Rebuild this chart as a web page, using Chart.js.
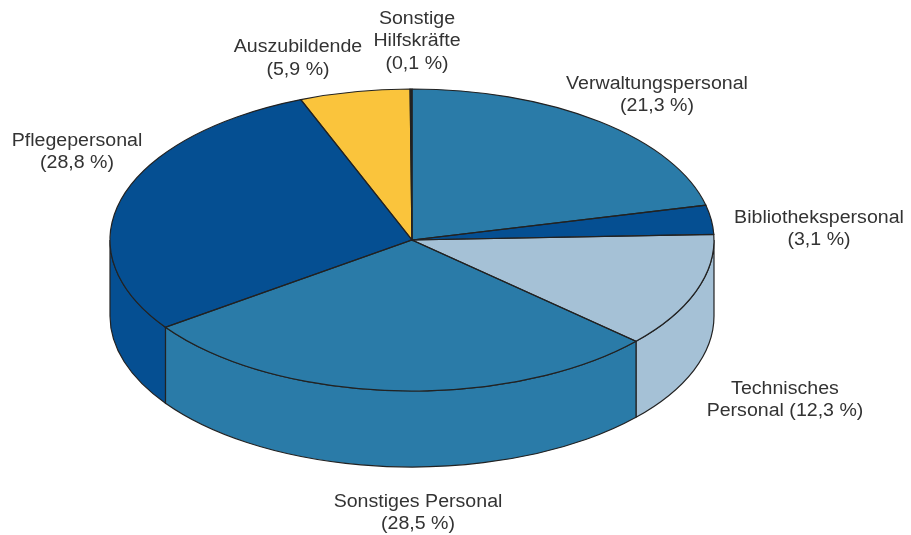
<!DOCTYPE html>
<html lang="de">
<head>
<meta charset="utf-8">
<title>Personal</title>
<script src="https://cdn.jsdelivr.net/npm/chart.js@4"></script>
<style>
    html, body { margin: 0; padding: 0; background: #ffffff; }
    canvas { display: block; }
</style>
</head>
<body>
<canvas id="pie-chart" width="911" height="535"></canvas>
<script>
// Data, clockwise from 12 o'clock
const categories = ['Verwaltungspersonal', 'Bibliothekspersonal', 'Technisches Personal', 'Sonstiges Personal', 'Pflegepersonal', 'Auszubildende', 'Sonstige Hilfskräfte'];
const shares = [21.3, 3.1, 12.3, 28.5, 28.8, 5.9, 0.1];
const sliceColors = ['#2a7ba8', '#054f92', '#a5c1d6', '#2a7ba8', '#054f92', '#fac43c', '#2a2a2a'];

// Where each name is broken into lines
const nameLines = [
    ['Verwaltungspersonal'],
    ['Bibliothekspersonal'],
    ['Technisches'],
    ['Sonstiges Personal'],
    ['Pflegepersonal'],
    ['Auszubildende'],
    ['Sonstige', 'Hilfskräfte']
];
const lastLinePrefix = ['', '', 'Personal ', '', '', '', ''];

// Label centres (x, middle of first line)
const labelAnchors = [[657, 84], [819, 218], [785, 389], [418, 502], [77, 141], [298, 47.5], [417, 19]];

// Projected pie geometry
const PIE = { x: 412, y: 240, rx: 302, ry: 151, depth: 76 };
const LINE_COLOR = '#222222';
const LINE_WIDTH = 1.2;
const LINE_HEIGHT = 22.3;
const TEXT_STRETCH = 1.088; // reference type is a little wider than Liberation

function percentText(value) {
    return '(' + value.toFixed(1).replace('.', ',') + ' %)';
}

const tiltedPie = {
    id: 'tiltedPie',

    // Side walls first, then squash the pie the library is about to draw
    beforeDatasetsDraw(chart) {
        const ctx = chart.ctx;
        const arcs = chart.getDatasetMeta(0).data;

        arcs.forEach((arc, i) => {
            const from = Math.max(arc.startAngle, 0);
            const to = Math.min(arc.endAngle, Math.PI);
            if (to <= from) return;

            ctx.beginPath();
            ctx.ellipse(PIE.x, PIE.y, PIE.rx, PIE.ry, 0, from, to);
            ctx.ellipse(PIE.x, PIE.y + PIE.depth, PIE.rx, PIE.ry, 0, to, from, true);
            ctx.closePath();
            ctx.fillStyle = sliceColors[i];
            ctx.fill();
            ctx.strokeStyle = LINE_COLOR;
            ctx.lineWidth = LINE_WIDTH;
            ctx.stroke();
        });

        const first = arcs[0];
        ctx.save();
        ctx.translate(PIE.x, PIE.y);
        ctx.scale(PIE.rx / first.outerRadius, PIE.ry / first.outerRadius);
        ctx.translate(-first.x, -first.y);
    },

    // Outlines are stroked unsquashed so the line width stays even
    afterDatasetsDraw(chart) {
        const ctx = chart.ctx;
        ctx.restore();

        ctx.strokeStyle = LINE_COLOR;
        ctx.lineWidth = LINE_WIDTH;
        chart.getDatasetMeta(0).data.forEach(arc => {
            ctx.beginPath();
            ctx.moveTo(PIE.x, PIE.y);
            ctx.ellipse(PIE.x, PIE.y, PIE.rx, PIE.ry, 0, arc.startAngle, arc.endAngle);
            ctx.closePath();
            ctx.stroke();
        });
    },

    afterDraw(chart) {
        const ctx = chart.ctx;
        ctx.save();
        ctx.font = '18px "Liberation Sans", Arial, sans-serif';
        ctx.fillStyle = '#333333';
        ctx.textAlign = 'center';
        ctx.textBaseline = 'middle';

        categories.forEach((name, i) => {
            const lines = nameLines[i].slice();
            lines.push(lastLinePrefix[i] + percentText(shares[i]));
            lines.forEach((line, n) => {
                ctx.save();
                ctx.translate(labelAnchors[i][0], labelAnchors[i][1] + n * LINE_HEIGHT);
                ctx.scale(TEXT_STRETCH, 1);
                ctx.fillText(line, 0, 0);
                ctx.restore();
            });
        });
        ctx.restore();
    }
};

const chart = new Chart(document.getElementById('pie-chart').getContext('2d'), {
    type: 'pie',
    data: {
        labels: categories,
        datasets: [{
            data: shares,
            backgroundColor: sliceColors,
            borderWidth: 0,
            clip: false
        }]
    },
    options: {
        responsive: false,
        animation: false,
        plugins: {
            legend: { display: false },
            tooltip: { enabled: false }
        }
    },
    plugins: [tiltedPie]
});
</script>
</body>
</html>
